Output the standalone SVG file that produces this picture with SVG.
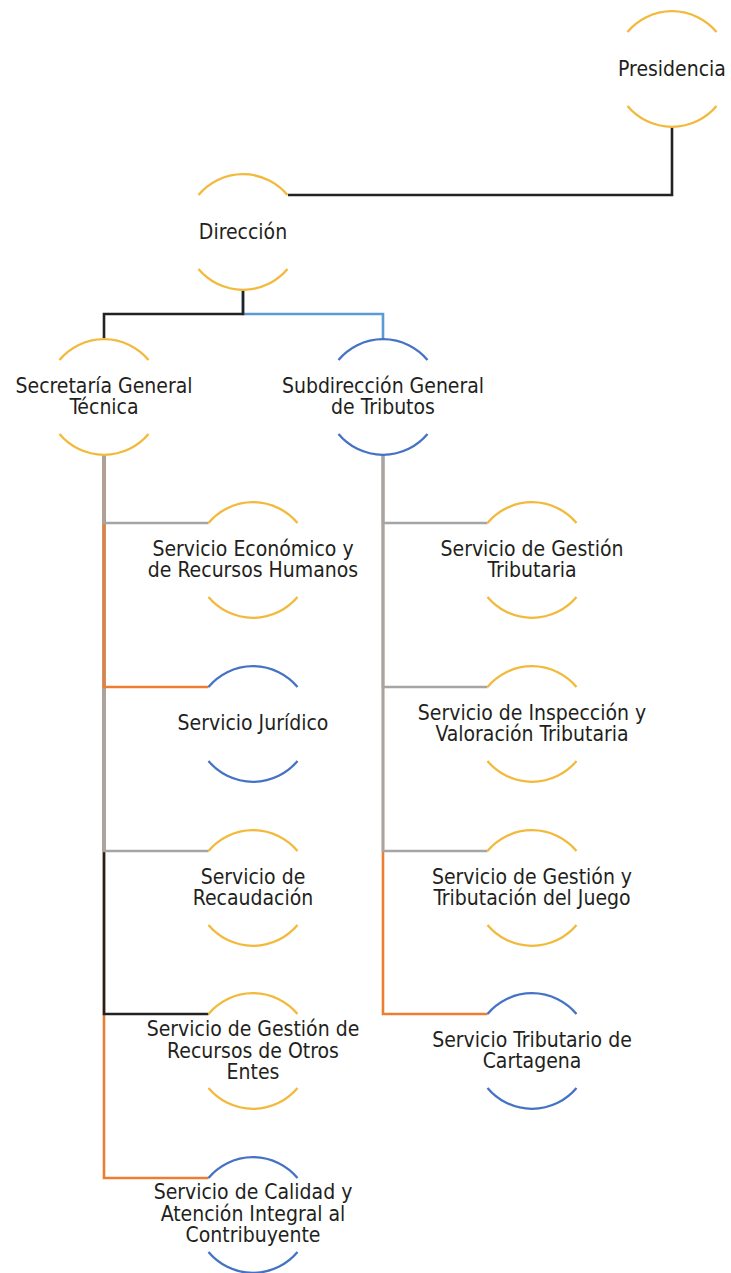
<svg xmlns="http://www.w3.org/2000/svg" width="731" height="1273" viewBox="0 0 731 1273">
<style>
.arc{fill:none;stroke-width:2.3}
.y{stroke:#F2B93B}
.b{stroke:#4472C4}
.c{fill:none;stroke-width:2.6}
.k{stroke:#222222}
.g{stroke:#A5A5A5}
.o{stroke:#ED7D31}
.lb{stroke:#5B9BD5}
text{font-family:"DejaVu Sans Condensed","DejaVu Sans","Liberation Sans",sans-serif;font-size:21px;fill:#231F20;text-anchor:middle}
</style>
<rect width="731" height="1273" fill="#ffffff"/>
<g id="connectors">
<path class="c k" d="M672 127V195H288"/>
<path class="c lb" d="M243 290V314H383V339"/>
<path class="c k" d="M243 290V314H104V339"/>
<path class="c o" d="M104 455V1178H208.5"/>
<path class="c k" d="M104 455V1014H208.5"/>
<path class="c g" d="M104 455V851H208.5"/>
<path class="c o" d="M104 455V687H208.5"/>
<path class="c g" d="M104 455V523H208.5"/>
<path class="c o" d="M383 455V1014H487.5"/>
<path class="c g" d="M383 455V851H487.5"/>
<path class="c g" d="M383 455V687H487.5"/>
<path class="c g" d="M383 455V523H487.5"/>
</g>
<g id="presidencia">
<path class="arc y" d="M627.5 32A58 58 0 0 1 716.5 32M627.5 106A58 58 0 0 0 716.5 106"/>
<text x="672" y="75.5">Presidencia</text>
</g>
<g id="direccion">
<path class="arc y" d="M198.5 195A58 58 0 0 1 287.5 195M198.5 269A58 58 0 0 0 287.5 269"/>
<text x="243" y="238.5">Dirección</text>
</g>
<g id="secretaria">
<path class="arc y" d="M59.5 360A58 58 0 0 1 148.5 360M59.5 434A58 58 0 0 0 148.5 434"/>
<text x="104" y="392.5">Secretaría General</text>
<text x="104" y="414">Técnica</text>
</g>
<g id="subdireccion">
<path class="arc b" d="M338.5 360A58 58 0 0 1 427.5 360M338.5 434A58 58 0 0 0 427.5 434"/>
<text x="383" y="392.5">Subdirección General</text>
<text x="383" y="414">de Tributos</text>
</g>
<g id="economico">
<path class="arc y" d="M208.5 523A58 58 0 0 1 297.5 523M208.5 597A58 58 0 0 0 297.5 597"/>
<text x="253" y="555.5">Servicio Económico y</text>
<text x="253" y="577">de Recursos Humanos</text>
</g>
<g id="juridico">
<path class="arc b" d="M208.5 687A58 58 0 0 1 297.5 687M208.5 761A58 58 0 0 0 297.5 761"/>
<text x="253" y="730">Servicio Jurídico</text>
</g>
<g id="recaudacion">
<path class="arc y" d="M208.5 851A58 58 0 0 1 297.5 851M208.5 925A58 58 0 0 0 297.5 925"/>
<text x="253" y="883.5">Servicio de</text>
<text x="253" y="905">Recaudación</text>
</g>
<g id="otros-entes">
<path class="arc y" d="M208.5 1014A58 58 0 0 1 297.5 1014M208.5 1088A58 58 0 0 0 297.5 1088"/>
<text x="253" y="1036">Servicio de Gestión de</text>
<text x="253" y="1057.5">Recursos de Otros</text>
<text x="253" y="1079">Entes</text>
</g>
<g id="calidad">
<path class="arc b" d="M208.5 1178A58 58 0 0 1 297.5 1178M208.5 1252A58 58 0 0 0 297.5 1252"/>
<text x="253" y="1199">Servicio de Calidad y</text>
<text x="253" y="1220.5">Atención Integral al</text>
<text x="253" y="1242">Contribuyente</text>
</g>
<g id="gestion-tributaria">
<path class="arc y" d="M487.5 523A58 58 0 0 1 576.5 523M487.5 597A58 58 0 0 0 576.5 597"/>
<text x="532" y="555.5">Servicio de Gestión</text>
<text x="532" y="577">Tributaria</text>
</g>
<g id="inspeccion">
<path class="arc y" d="M487.5 687A58 58 0 0 1 576.5 687M487.5 761A58 58 0 0 0 576.5 761"/>
<text x="532" y="719.5">Servicio de Inspección y</text>
<text x="532" y="741">Valoración Tributaria</text>
</g>
<g id="juego">
<path class="arc y" d="M487.5 851A58 58 0 0 1 576.5 851M487.5 925A58 58 0 0 0 576.5 925"/>
<text x="532" y="883.5">Servicio de Gestión y</text>
<text x="532" y="905">Tributación del Juego</text>
</g>
<g id="cartagena">
<path class="arc b" d="M487.5 1014A58 58 0 0 1 576.5 1014M487.5 1088A58 58 0 0 0 576.5 1088"/>
<text x="532" y="1046.5">Servicio Tributario de</text>
<text x="532" y="1068">Cartagena</text>
</g>
</svg>
